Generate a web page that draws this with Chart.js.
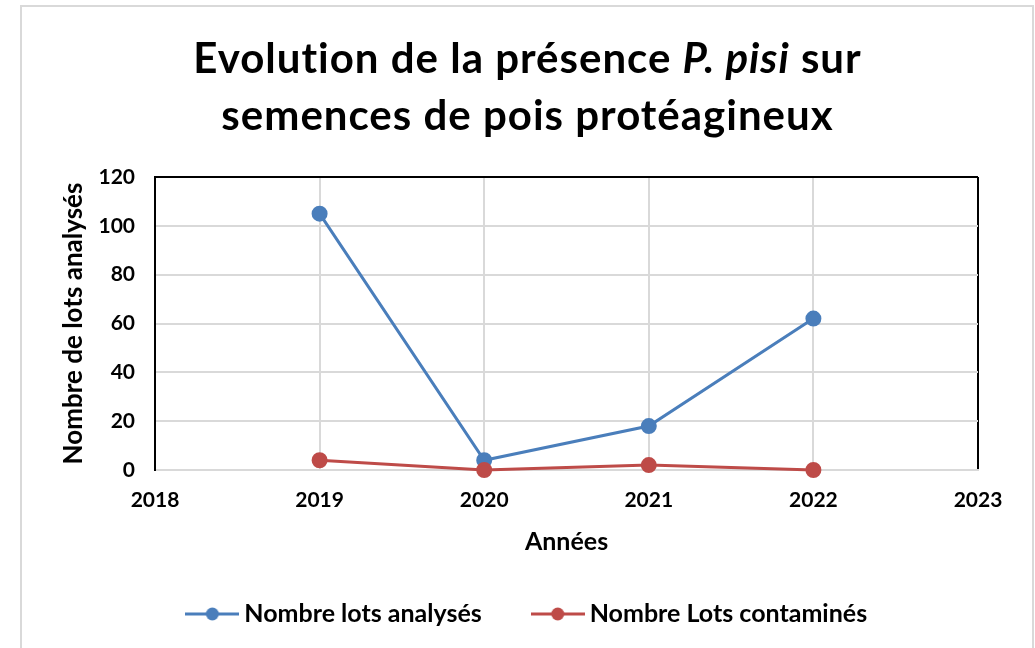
<!DOCTYPE html>
<html lang="fr">
<head>
    <meta charset="UTF-8">
    <title>Evolution de la présence P. pisi</title>
    <style>
        body {
            margin: 0;
            background: #ffffff;
            font-family: Lato, "Open Sans", sans-serif;
        }
        #cadre {
            position: absolute;
            left: 20px;
            top: 5px;
            width: 1010px;
            height: 700px;
            border-left: 2px solid #d9d9d9;
            border-top: 2px solid #d9d9d9;
            border-right: 2px solid #d9d9d9;
        }
        #titre {
            position: absolute;
            left: 20px;
            top: 29px;
            width: 1015px;
            text-align: center;
            font-size: 42px;
            letter-spacing: 1px;
            line-height: 57px;
            font-weight: bold;
            color: #000;
        }
        #myChart {
            position: absolute;
            left: 0;
            top: 0;
        }
    </style>
</head>
<body>
    <div id="cadre"></div>
    <canvas id="myChart" width="1035" height="648"></canvas>
    <div id="titre">Evolution de la présence <i>P. pisi</i> sur<br>semences de pois protéagineux</div>

    <script src="https://cdn.jsdelivr.net/npm/chart.js"></script>
    <script>
        // donnees
        const annees = [2019, 2020, 2021, 2022];
        const lotsAnalyses = [105, 4, 18, 62];
        const lotsContamines = [4, 0, 2, 0];
        const nomsSeries = ['Nombre lots analysés', 'Nombre Lots contaminés'];
        const xMin = 2018, xMax = 2023;
        const yMin = 0, yMax = 120, yPas = 20;

        const bleu = '#4a7ebb';
        const rouge = '#be4b48';
        const police = 'Lato, "Open Sans", sans-serif';

        // petit symbole ligne + rond pour la legende
        function symbole(couleur) {
            const c = document.createElement('canvas');
            c.width = 54;
            c.height = 14;
            const g = c.getContext('2d');
            g.strokeStyle = couleur;
            g.lineWidth = 3;
            g.beginPath();
            g.moveTo(0, 7);
            g.lineTo(54, 7);
            g.stroke();
            g.fillStyle = couleur;
            g.beginPath();
            g.arc(27, 7, 6.5, 0, Math.PI * 2);
            g.fill();
            return c;
        }

        function points(valeurs) {
            return annees.map((a, i) => ({ x: a, y: valeurs[i] }));
        }

        const ctx = document.getElementById('myChart').getContext('2d');
        const myChart = new Chart(ctx, {
            type: 'line',
            data: {
                datasets: [
                    {
                        label: nomsSeries[0],
                        data: points(lotsAnalyses),
                        borderColor: bleu,
                        backgroundColor: bleu,
                        borderWidth: 3,
                        pointRadius: 6.5,
                        pointHoverRadius: 6.5,
                        clip: false,
                        order: 1
                    },
                    {
                        label: nomsSeries[1],
                        data: points(lotsContamines),
                        borderColor: rouge,
                        backgroundColor: rouge,
                        borderWidth: 3,
                        pointRadius: 6.5,
                        pointHoverRadius: 6.5,
                        clip: false,
                        order: 0
                    }
                ]
            },
            options: {
                responsive: false,
                animation: false,
                layout: {
                    padding: { left: 82, top: 177, right: 57, bottom: 11.5 }
                },
                plugins: {
                    legend: {
                        position: 'bottom',
                        labels: {
                            usePointStyle: true,
                            pointStyleWidth: 39,
                            padding: 56.5,
                            color: '#000',
                            font: { family: police, size: 25, weight: 'bold' },
                            generateLabels: chart => chart.data.datasets.map((ds, i) => ({
                                text: ds.label,
                                pointStyle: symbole(ds.borderColor),
                                fillStyle: ds.borderColor,
                                strokeStyle: ds.borderColor,
                                lineWidth: 0,
                                fontColor: '#000',
                                datasetIndex: i
                            }))
                        }
                    },
                    tooltip: { enabled: false }
                },
                scales: {
                    x: {
                        type: 'linear',
                        min: xMin,
                        max: xMax,
                        afterFit: s => { s.height = 75; },
                        ticks: {
                            stepSize: 1,
                            padding: 18,
                            color: '#000',
                            font: { family: police, size: 21, weight: 'bold' },
                            callback: v => String(v)
                        },
                        grid: {
                            drawTicks: false,
                            lineWidth: 2,
                            color: c => (c.tick && (c.tick.value === xMax || c.tick.value === xMin)) ? '#000' : '#d9d9d9'
                        },
                        border: { color: '#d9d9d9', width: 2 },
                        title: {
                            display: true,
                            text: 'Années',
                            color: '#000',
                            font: { family: police, size: 25, weight: 'bold' },
                            padding: { top: 0, bottom: -12 }
                        }
                    },
                    y: {
                        min: yMin,
                        max: yMax,
                        afterFit: s => { s.width = 73; },
                        ticks: {
                            stepSize: yPas,
                            padding: 20,
                            color: '#000',
                            font: { family: police, size: 21, weight: 'bold' }
                        },
                        grid: {
                            drawTicks: false,
                            lineWidth: 2,
                            color: c => (c.tick && c.tick.value === yMax) ? '#000' : '#d9d9d9'
                        },
                        border: { color: '#000', width: 2 },
                        title: {
                            display: true,
                            text: 'Nombre de lots analysés',
                            color: '#000',
                            font: { family: police, size: 26, weight: 'bold' },
                            padding: { top: -23.6, bottom: 0 }
                        }
                    }
                }
            }
        });
    </script>
</body>
</html>
